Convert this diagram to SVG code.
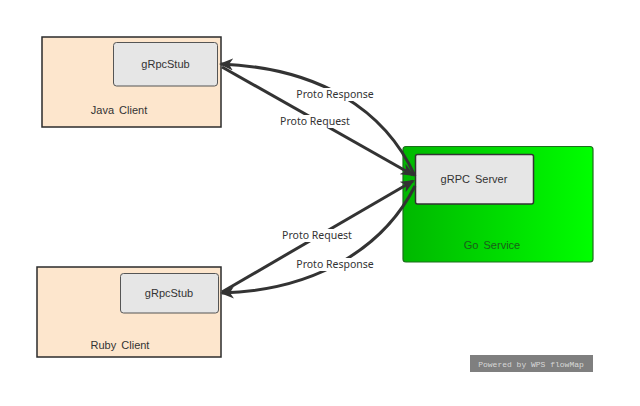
<svg xmlns="http://www.w3.org/2000/svg" width="640" height="406" viewBox="0 0 640 406">
<style>
.client{fill:#fde6cd;stroke:#2b2b2b;stroke-width:1.5}
.stub{fill:#e6e6e6;stroke:#555;stroke-width:1}
.t{font-family:"Liberation Sans",Arial,sans-serif;font-size:11px;fill:#333;text-anchor:middle;word-spacing:2px}
.lbl{font-family:"Noto Sans","Open Sans",sans-serif;font-size:10.5px;fill:#333;text-anchor:middle}
.edge{fill:none;stroke:#333;stroke-width:3}
.bg{fill:#fff}
</style>
<defs>
<linearGradient id="green" x1="0" y1="0" x2="1" y2="0">
<stop offset="0" stop-color="#00b800"/>
<stop offset="1" stop-color="#00ff00"/>
</linearGradient>
<marker id="arr" markerUnits="userSpaceOnUse" viewBox="0 0 14 12" markerWidth="14" markerHeight="12" refX="12" refY="6" orient="auto">
<path d="M0,0 L14,6 L0,12 L4,6 z" fill="#333"/>
</marker>
</defs>
<rect width="640" height="406" fill="#fff"/>
<g id="java-client">
<rect class="client" x="42" y="37" width="179" height="90"/>
<rect class="stub" x="113.5" y="42.5" width="104" height="43.5" rx="3"/>
<text class="t" x="165.5" y="68">gRpcStub</text>
<text class="t" x="119" y="114">Java Client</text>
</g>
<g id="ruby-client">
<rect class="client" x="37" y="267" width="184" height="90"/>
<rect class="stub" x="120.5" y="273.5" width="98" height="39.5" rx="3"/>
<text class="t" x="169" y="297">gRpcStub</text>
<text class="t" x="120" y="349">Ruby Client</text>
</g>
<g id="go-service">
<rect x="403" y="146.5" width="190" height="115.5" rx="3" fill="url(#green)" stroke="#1c6e1c" stroke-width="1.2"/>
<rect x="415.5" y="154.5" width="118" height="49.5" rx="2" fill="#e6e6e6" stroke="#333" stroke-width="1.5"/>
<text class="t" x="474" y="183">gRPC Server</text>
<text class="t" x="492" y="249" style="fill:#1a5e1a">Go Service</text>
</g>
<g id="connectors">
<path class="edge" d="M415,176 C385,110 320,68 221,64" marker-end="url(#arr)"/>
<path class="edge" d="M222,67 L413,175" marker-end="url(#arr)"/>
<path class="edge" d="M222,292 L413,181" marker-end="url(#arr)"/>
<path class="edge" d="M415,186 C385,245 320,290 222,293" marker-end="url(#arr)"/>
<rect class="bg" x="295" y="88" width="80" height="13"/>
<text class="lbl" x="335" y="98">Proto Response</text>
<rect class="bg" x="279" y="115" width="73" height="13"/>
<text class="lbl" x="315" y="125">Proto Request</text>
<rect class="bg" x="281" y="229" width="73" height="13"/>
<text class="lbl" x="317" y="239">Proto Request</text>
<rect class="bg" x="295" y="258" width="80" height="13"/>
<text class="lbl" x="335" y="268">Proto Response</text>
</g>
<g id="watermark">
<rect x="470" y="355" width="123" height="17" fill="#7f7f7f"/>
<text x="531" y="366.5" font-family="Liberation Mono,monospace" font-size="8" fill="#d8d8d8" text-anchor="middle">Powered by WPS flowMap</text>
</g>
</svg>
